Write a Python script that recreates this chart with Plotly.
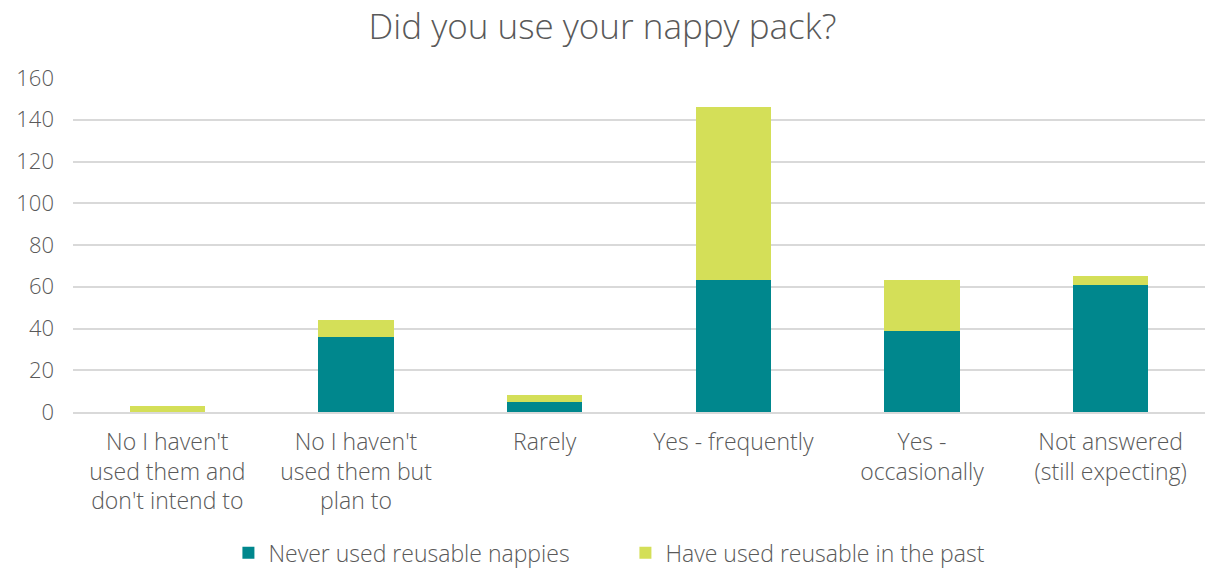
import plotly.graph_objects as go

categories = [
    "No I haven't<br>used them and<br>don't intend to",
    "No I haven't<br>used them but<br>plan to",
    "Rarely",
    "Yes - frequently",
    "Yes -<br>occasionally",
    "Not answered<br>(still expecting)",
]
never_used = [0, 36, 5, 63, 39, 61]
used_past = [3, 8, 3, 83, 24, 4]
y_ticks = [0, 20, 40, 60, 80, 100, 120, 140, 160]

FONT = "Open Sans"
GREY = "#595959"
LBL = 23

fig = go.Figure()
fig.add_trace(go.Bar(x=categories, y=never_used, name="Never used reusable nappies",
                     marker=dict(color="#00878D", line=dict(width=0))))
fig.add_trace(go.Bar(x=categories, y=used_past, name="Have used reusable in the past",
                     marker=dict(color="#D4DF58", line=dict(width=0))))

fig.update_layout(
    barmode="stack",
    bargap=0.6,
    width=1205, height=572,
    margin=dict(l=73, r=0, t=78, b=160, autoexpand=False),
    paper_bgcolor="white", plot_bgcolor="white",
    font=dict(family=FONT, color=GREY, size=LBL, weight=300),
    title=dict(text="Did you use your nappy pack?", x=0.5, xanchor="center",
               yref="container", y=0.953, yanchor="middle",
               font=dict(size=35, color=GREY, family=FONT, weight=300)),
    legend=dict(orientation="h", x=0.488, xanchor="center", y=-0.357, yanchor="top",
                font=dict(size=LBL, color=GREY, family=FONT, weight=300),
                traceorder="normal", itemwidth=30, entrywidth=352),
    xaxis=dict(showline=True, linecolor="#d9d9d9", linewidth=2, ticks="",
               tickfont=dict(size=LBL, color=GREY, family=FONT, weight=300),
               ticklabelstandoff=8, automargin=False),
    yaxis=dict(range=[0, 160], tickvals=y_ticks, showgrid=True, gridcolor="#d9d9d9",
               gridwidth=2, zeroline=False, ticks="",
               tickfont=dict(size=22, color=GREY, family=FONT, weight=300),
               ticklabelstandoff=18, automargin=False),
)

fig.write_html("out.html")
